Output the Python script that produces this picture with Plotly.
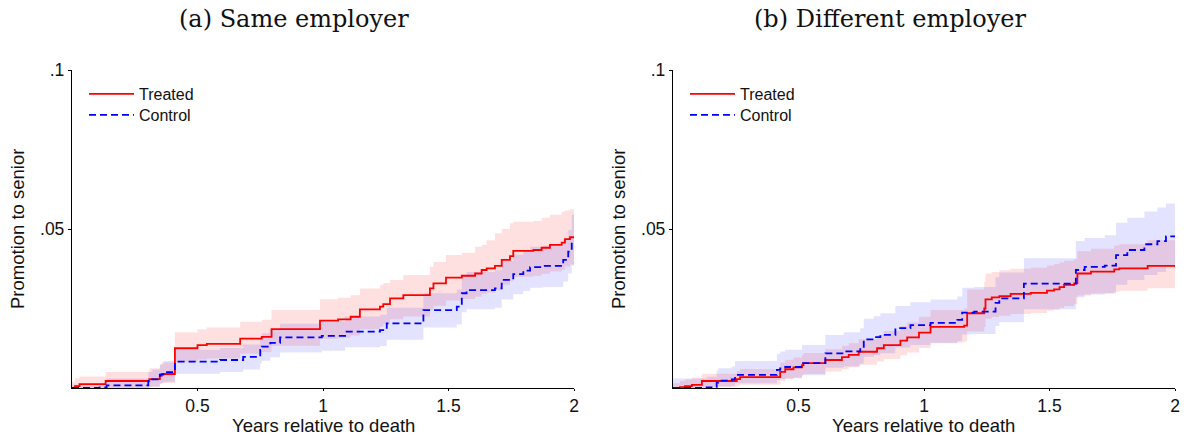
import plotly.graph_objects as go

# (a) Same employer — treated
a_treat_t = [0, 0.012, 0.03, 0.134, 0.308, 0.35, 0.357, 0.41, 0.5, 0.537, 0.67, 0.756, 0.795,
             0.988, 1.06, 1.11, 1.147, 1.227, 1.24, 1.267, 1.32, 1.426, 1.44, 1.49, 1.553, 1.606,
             1.632, 1.652, 1.685, 1.712, 1.745, 1.758, 1.838, 1.871, 1.904, 1.951, 1.964, 1.984, 2.0]
a_treat_y = [0, 0.0006, 0.0012, 0.0022, 0.0028, 0.0038, 0.0044, 0.0125, 0.0135, 0.0139, 0.0155,
             0.0161, 0.0185, 0.0212, 0.0216, 0.0224, 0.0247, 0.0256, 0.0264, 0.0282, 0.0292, 0.0313,
             0.0329, 0.0347, 0.0353, 0.036, 0.0371, 0.0376, 0.0384, 0.0403, 0.0415, 0.0431, 0.0434,
             0.0441, 0.045, 0.0457, 0.0468, 0.0474, 0.0474]
a_treat_hi = [0.002, 0.003, 0.0036, 0.005, 0.0062, 0.0072, 0.008, 0.0175, 0.0185, 0.019, 0.0208,
              0.0215, 0.0245, 0.0279, 0.0284, 0.0292, 0.0313, 0.0325, 0.033, 0.034, 0.0355, 0.0381,
              0.0396, 0.0418, 0.0425, 0.0444, 0.045, 0.0465, 0.0487, 0.05, 0.0518, 0.0523, 0.0525,
              0.0535, 0.0545, 0.0554, 0.0558, 0.0562, 0.0562]
a_treat_lo = [0, 0, 0, 0.0001, 0.0004, 0.0012, 0.0016, 0.0082, 0.009, 0.0093, 0.0108, 0.0113,
              0.0133, 0.0155, 0.0158, 0.0165, 0.0185, 0.0193, 0.02, 0.0216, 0.0225, 0.0245, 0.0259,
              0.0275, 0.028, 0.0287, 0.0296, 0.03, 0.0307, 0.0325, 0.0336, 0.035, 0.0353, 0.0359,
              0.0366, 0.0372, 0.0382, 0.0388, 0.0388]

# (a) Same employer — control
a_ctrl_t = [0, 0.11, 0.138, 0.304, 0.32, 0.35, 0.364, 0.41, 0.59, 0.682, 0.75, 0.756, 0.79, 0.829,
            0.995, 1.088, 1.227, 1.254, 1.4, 1.533, 1.553, 1.572, 1.685, 1.712, 1.758, 1.798, 1.825,
            1.878, 1.957, 1.977, 1.991, 2.0]
a_ctrl_y = [0, 0.0002, 0.0008, 0.0022, 0.0027, 0.0042, 0.005, 0.0083, 0.0088, 0.0098, 0.012, 0.013,
            0.0142, 0.0159, 0.0164, 0.0177, 0.0182, 0.0203, 0.0245, 0.0256, 0.0298, 0.0308, 0.0313,
            0.034, 0.0358, 0.0369, 0.038, 0.0384, 0.0403, 0.0429, 0.046, 0.046]
a_ctrl_hi = [0.001, 0.0015, 0.003, 0.005, 0.0058, 0.0075, 0.0085, 0.012, 0.0126, 0.0137, 0.016,
             0.0172, 0.0185, 0.0202, 0.0208, 0.0225, 0.023, 0.0252, 0.0298, 0.031, 0.0355, 0.0365,
             0.037, 0.04, 0.042, 0.0432, 0.0444, 0.0448, 0.0468, 0.0497, 0.0545, 0.0545]
a_ctrl_lo = [0, 0, 0, 0.0002, 0.0004, 0.0015, 0.002, 0.0045, 0.005, 0.0058, 0.0077, 0.0086, 0.0097,
             0.0112, 0.0117, 0.0128, 0.0132, 0.0152, 0.019, 0.02, 0.0238, 0.0248, 0.0252, 0.0278,
             0.0295, 0.0305, 0.0315, 0.0318, 0.0335, 0.036, 0.0385, 0.0385]

# (b) Different employer — treated
b_treat_t = [0, 0.028, 0.048, 0.075, 0.115, 0.254, 0.267, 0.427, 0.447, 0.48, 0.514, 0.52, 0.607,
             0.673, 0.70, 0.74, 0.813, 0.84, 0.906, 0.933, 0.98, 1.026, 1.16, 1.172, 1.24, 1.245,
             1.27, 1.30, 1.345, 1.425, 1.49, 1.518, 1.54, 1.558, 1.598, 1.611, 1.665, 1.758, 1.778,
             1.891, 2.0]
b_treat_y = [0, 0.0003, 0.0006, 0.001, 0.0022, 0.0028, 0.0034, 0.0051, 0.0059, 0.0065, 0.0072,
             0.0078, 0.0088, 0.0097, 0.0104, 0.0114, 0.0125, 0.0135, 0.0149, 0.0159, 0.0174, 0.0192,
             0.0196, 0.0235, 0.025, 0.0279, 0.0285, 0.0289, 0.0296, 0.0299, 0.0306, 0.031, 0.0317,
             0.0324, 0.0329, 0.036, 0.0366, 0.0373, 0.0376, 0.0384, 0.0384]
b_treat_hi = [0.0015, 0.0022, 0.0027, 0.0032, 0.0045, 0.0053, 0.006, 0.008, 0.0089, 0.0096, 0.0104,
              0.011, 0.0122, 0.0133, 0.0141, 0.0153, 0.0167, 0.0179, 0.0195, 0.0206, 0.0224, 0.0245,
              0.025, 0.031, 0.0335, 0.036, 0.0365, 0.037, 0.0375, 0.0378, 0.0385, 0.039, 0.0395,
              0.040, 0.0405, 0.043, 0.0438, 0.0448, 0.0452, 0.0465, 0.0465]
b_treat_lo = [0, 0, 0, 0, 0.0003, 0.0006, 0.001, 0.0022, 0.0028, 0.0033, 0.0039, 0.0044, 0.0052,
              0.0059, 0.0065, 0.0073, 0.0083, 0.0091, 0.0103, 0.0112, 0.0126, 0.0142, 0.0146,
              0.0178, 0.0192, 0.0218, 0.0223, 0.0227, 0.0233, 0.0236, 0.0243, 0.0246, 0.0252,
              0.0258, 0.0263, 0.0291, 0.0297, 0.0303, 0.0306, 0.0314, 0.0314]

# (b) Different employer — control
b_ctrl_t = [0, 0.134, 0.174, 0.18, 0.234, 0.247, 0.414, 0.427, 0.447, 0.514, 0.607, 0.68, 0.746,
            0.76, 0.80, 0.826, 0.886, 0.946, 1.026, 1.133, 1.152, 1.2, 1.285, 1.3, 1.398, 1.605,
            1.64, 1.72, 1.765, 1.81, 1.878, 1.93, 1.964, 2.0]
b_ctrl_y = [0, 0.0002, 0.0017, 0.0023, 0.0027, 0.0041, 0.0057, 0.0062, 0.0066, 0.0078, 0.0109,
            0.0115, 0.0125, 0.0153, 0.016, 0.0167, 0.0188, 0.0198, 0.0205, 0.0214, 0.0237, 0.024,
            0.0268, 0.0282, 0.0328, 0.0371, 0.0381, 0.0385, 0.0418, 0.0434, 0.0452, 0.0462, 0.0477,
            0.0477]
b_ctrl_hi = [0.003, 0.0035, 0.0055, 0.0062, 0.0068, 0.0085, 0.0108, 0.0115, 0.012, 0.0135, 0.0167,
             0.0175, 0.0188, 0.0218, 0.0226, 0.0235, 0.0258, 0.027, 0.0278, 0.0288, 0.0315, 0.0318,
             0.0348, 0.0363, 0.0408, 0.0462, 0.0472, 0.048, 0.052, 0.0535, 0.0555, 0.0568, 0.058,
             0.058]
b_ctrl_lo = [0, 0, 0.0002, 0.0005, 0.0007, 0.0015, 0.0025, 0.0028, 0.0031, 0.004, 0.0064, 0.0068,
             0.0076, 0.0098, 0.0103, 0.0109, 0.0127, 0.0135, 0.0141, 0.0148, 0.0168, 0.017, 0.0195,
             0.0207, 0.0248, 0.0285, 0.0294, 0.0298, 0.0325, 0.034, 0.0355, 0.0365, 0.038, 0.038]

panel_titles = ["(a) Same employer", "(b) Different employer"]
x_ticks = [0.5, 1, 1.5, 2]
x_ticktext = ["0.5", "1", "1.5", "2"]
y_ticks = [0.05, 0.1]
y_ticktext = [".05", ".1"]

RED = "#ff0000"
BLUE = "#0000ff"
RED_FILL = "rgba(255,0,0,0.12)"
BLUE_FILL = "rgba(0,0,255,0.11)"
SANS = "Liberation Sans, Arial, sans-serif"

# the body margin is removed (see post_script), so the figure fills the window
W, H = 1189, 439


def px(x):
    return x / W


def py(y):
    return 1 - y / H


fig = go.Figure()


def add_band(t, lo, hi, fill, xa, ya):
    fig.add_trace(go.Scatter(x=t, y=lo, mode="lines", line=dict(width=0, shape="hv"),
                             showlegend=False, hoverinfo="skip", xaxis=xa, yaxis=ya))
    fig.add_trace(go.Scatter(x=t, y=hi, mode="lines", line=dict(width=0, shape="hv"),
                             fill="tonexty", fillcolor=fill, showlegend=False,
                             hoverinfo="skip", xaxis=xa, yaxis=ya))


# one single-item legend per entry so the row spacing can match the original
panels = [
    ("x", "y", ("legend", "legend2"), (a_treat_t, a_treat_y, a_treat_lo, a_treat_hi),
     (a_ctrl_t, a_ctrl_y, a_ctrl_lo, a_ctrl_hi)),
    ("x2", "y2", ("legend3", "legend4"), (b_treat_t, b_treat_y, b_treat_lo, b_treat_hi),
     (b_ctrl_t, b_ctrl_y, b_ctrl_lo, b_ctrl_hi)),
]

for xa, ya, lg, treat, ctrl in panels:
    add_band(treat[0], treat[2], treat[3], RED_FILL, xa, ya)
    add_band(ctrl[0], ctrl[2], ctrl[3], BLUE_FILL, xa, ya)
    fig.add_trace(go.Scatter(x=treat[0], y=treat[1], mode="lines", name="Treated",
                             line=dict(color=RED, width=1.8, shape="hv"),
                             xaxis=xa, yaxis=ya, legend=lg[0]))
    fig.add_trace(go.Scatter(x=ctrl[0], y=ctrl[1], mode="lines", name="Control",
                             line=dict(color=BLUE, width=1.8, shape="hv", dash="7px,4px"),
                             xaxis=xa, yaxis=ya, legend=lg[1]))

xdom = [[px(72), px(574)], [px(673), px(1175)]]
ydom = [py(388), py(70)]

axis_common = dict(showline=True, linecolor="black", linewidth=1.3, showgrid=False,
                   zeroline=False, tickfont=dict(family=SANS, size=17.5, color="#111"),
                   automargin=False)

layout_axes = {}
for i, suffix in enumerate(["", "2"]):
    layout_axes["xaxis" + suffix] = dict(axis_common, domain=xdom[i], range=[0, 2],
                                         tickvals=x_ticks, ticktext=x_ticktext,
                                         ticks="outside", ticklen=2, tickcolor="black",
                                         anchor="y" + suffix)
    layout_axes["yaxis" + suffix] = dict(axis_common, domain=ydom, range=[0, 0.1],
                                         tickvals=y_ticks, ticktext=y_ticktext,
                                         ticks="outside", ticklen=3, tickcolor="black",
                                         anchor="x" + suffix)

legend_common = dict(bgcolor="rgba(0,0,0,0)", borderwidth=0, xanchor="left", yanchor="top",
                     font=dict(family=SANS, size=16, color="#111"), itemwidth=45)

fig.update_layout(
    width=W, height=H,
    margin=dict(l=0, r=0, t=0, b=0),
    paper_bgcolor="white", plot_bgcolor="white",
    legend=dict(legend_common, x=px(84), y=py(77)),
    legend2=dict(legend_common, x=px(84), y=py(98)),
    legend3=dict(legend_common, x=px(685), y=py(77)),
    legend4=dict(legend_common, x=px(685), y=py(98)),
    **layout_axes,
)

annotations = []
for i, title in enumerate(panel_titles):
    annotations.append(dict(text=title, x=px([294, 890][i]), y=py(19),
                            xref="paper", yref="paper", showarrow=False,
                            xanchor="center", yanchor="middle",
                            font=dict(family="DejaVu Serif, serif", size=24, color="#111")))
    annotations.append(dict(text="Years relative to death", x=px([323, 923][i]), y=py(425),
                            xref="paper", yref="paper", showarrow=False,
                            xanchor="center", yanchor="middle",
                            font=dict(family=SANS, size=18.5, color="#111")))
    annotations.append(dict(text="Promotion to senior", x=px([17, 618][i]), y=py(229),
                            textangle=-90, xref="paper", yref="paper", showarrow=False,
                            xanchor="center", yanchor="middle",
                            font=dict(family=SANS, size=18.5, color="#111")))
fig.update_layout(annotations=annotations)

fig.write_html("out.html", config={"displayModeBar": False},
               post_script="document.body.style.margin = '0';")
